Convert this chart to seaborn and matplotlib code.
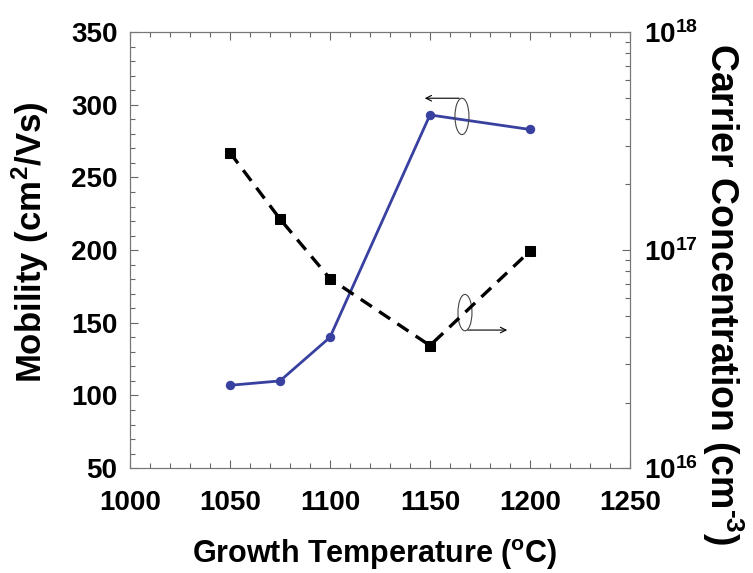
import matplotlib
matplotlib.use("Agg")
import matplotlib.pyplot as plt
import seaborn as sns
import pandas as pd
from matplotlib.patches import Ellipse
from matplotlib.ticker import MultipleLocator, LogLocator, FixedFormatter

# data
temp = [1050, 1075, 1100, 1150, 1200]
mobility = [107, 110, 140, 293, 283]
conc_temp = [1050, 1075, 1100, 1150, 1200]
carrier = [2.8e17, 1.39e17, 7.4e16, 3.65e16, 9.9e16]

sns.set_style("ticks")
plt.rcParams['font.family'] = ['Liberation Sans', 'DejaVu Sans']
plt.rcParams['font.weight'] = 'bold'
plt.rcParams['text.color'] = 'black'
plt.rcParams['axes.labelcolor'] = 'black'
plt.rcParams['mathtext.fontset'] = 'custom'
plt.rcParams['mathtext.rm'] = 'Liberation Sans:bold'
plt.rcParams['mathtext.it'] = 'Liberation Sans:bold'
plt.rcParams['mathtext.bf'] = 'Liberation Sans:bold'

df_mob = pd.DataFrame({'T': temp, 'mu': mobility})
df_n = pd.DataFrame({'T': conc_temp, 'n': carrier})

fig = plt.figure(figsize=(7.53, 5.73), dpi=100)
ax = fig.add_axes([0.1726, 0.183, 0.664, 0.761])
ax2 = ax.twinx()

blue = '#3840a0'
sns.lineplot(data=df_mob, x='T', y='mu', ax=ax, color=blue, lw=2.0,
             marker='o', markersize=6, markeredgecolor=blue)
sns.lineplot(data=df_n, x='T', y='n', ax=ax2, color='black', lw=2.4,
             marker='s', markersize=6.5, markeredgecolor='black',
             linestyle=(0, (4, 2.6)))

ax.set_xlim(1000, 1250)
ax.set_ylim(50, 350)
ax.xaxis.set_major_locator(MultipleLocator(50))
ax.xaxis.set_minor_locator(MultipleLocator(10))
ax.yaxis.set_major_locator(MultipleLocator(50))
ax.yaxis.set_minor_locator(MultipleLocator(10))
ax.tick_params(which='both', direction='in', top=True, labelsize=20, width=0.8,
               colors='#666666', labelcolor='black')
ax.tick_params(which='major', length=6)
ax.tick_params(which='minor', length=3.5)
ax.tick_params(axis='x', which='both', pad=16)
ax.tick_params(axis='y', which='both', pad=9)

ax2.set_yscale('log')
ax2.set_ylim(1e16, 1e18)
ax2.yaxis.set_minor_locator(LogLocator(base=10, subs=range(2, 10), numticks=20))
ax2.set_yticks([1e16, 1e17, 1e18])
ax2.yaxis.set_major_formatter(FixedFormatter([r'$10^{16}$', r'$10^{17}$', r'$10^{18}$']))
ax2.tick_params(which='both', direction='in', labelsize=20, width=0.8,
                colors='#666666', labelcolor='black', pad=10)
ax2.tick_params(which='major', length=6)
ax2.tick_params(which='minor', length=3.5)

for a in (ax, ax2):
    for s in a.spines.values():
        s.set_color('#777777')
        s.set_linewidth(0.8)

ax.set_xlabel(r'Growth Temperature ($^{\mathrm{o}}$C)', fontsize=22, fontweight='bold',
              va='baseline')
ax.xaxis.set_label_coords(0.49, -0.218)
ax.set_ylabel(r'Mobility (cm$^{2}$/Vs)', fontsize=25, fontweight='bold',
              va='center', ha='center')
ax.yaxis.set_label_coords(-0.2, 0.518)
ax2.set_ylabel('Carrier Concentration (cm$^{\u2010 3}$)', fontsize=27, fontweight='bold',
               rotation=270, va='center', ha='center')
ax2.yaxis.set_label_coords(1.185, 0.40)

# arrows showing which axis each curve belongs to
ax.add_patch(Ellipse((1166, 292), 7, 25, fill=False, lw=0.8, ec='#444444', zorder=5))
ax.annotate('', xy=(1146, 304.5), xytext=(1166, 304.5),
            arrowprops=dict(arrowstyle='->', lw=0.8, color='black'))
ax.add_patch(Ellipse((1167.5, 157), 7, 25, fill=False, lw=0.8, ec='#444444', zorder=5))
ax.annotate('', xy=(1190, 145), xytext=(1167.5, 145),
            arrowprops=dict(arrowstyle='->', lw=0.8, color='black'))

fig.savefig('out.png', dpi=100)
